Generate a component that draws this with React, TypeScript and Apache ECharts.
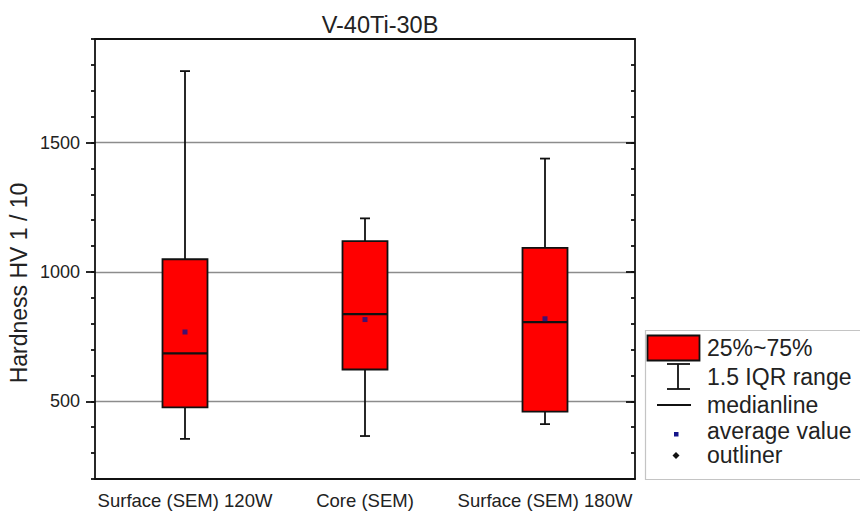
import React, { useEffect, useRef } from 'react';
import * as echarts from 'echarts';

const categories = ['Surface (SEM) 120W', 'Core (SEM)', 'Surface (SEM) 180W'];
const whiskerLow = [355, 366, 412];
const q1 = [477, 623, 460];
const median = [685, 837, 806];
const q3 = [1049, 1119, 1093];
const whiskerHigh = [1776, 1207, 1438];
const mean = [768, 816, 819];
const majorTicks = [500, 1000, 1500];
const legendLabels = ['25%~75%', '1.5 IQR range', 'medianline', 'average value', 'outliner'];
const titleText = 'V-40Ti-30B';
const yName = 'Hardness HV 1 / 10';

const FONT = 'Liberation Sans, Arial, sans-serif';
const AXIS = { color: '#111', width: 1.8 };

export default function App() {
  const ref = useRef<HTMLDivElement>(null);
  useEffect(() => {
    if (!ref.current) return;
    const chart = echarts.init(ref.current, undefined, { renderer: 'svg' });
    const boxData = categories.map((_, i) => [i, whiskerLow[i], q1[i], median[i], q3[i], whiskerHigh[i]]);
    const meanData = categories.map((_, i) => [i, mean[i]]);
    const yBase = { type: 'value', min: 200, max: 1900, splitLine: { show: false } };
    const legendX = 707;
    const legendY = [348, 377, 405, 431, 455];
    chart.setOption({
      animation: false,
      title: {
        text: titleText,
        left: 375,
        top: 8,
        textAlign: 'center',
        textStyle: { fontFamily: FONT, fontSize: 23.5, fontWeight: 'normal', color: '#222' },
      },
      grid: { left: 95, right: 225, top: 39, bottom: 33 },
      xAxis: [
        {
          type: 'category',
          data: categories,
          position: 'bottom',
          axisLine: { lineStyle: AXIS },
          axisTick: { alignWithLabel: true, length: 7, lineStyle: AXIS },
          axisLabel: { interval: 0, fontFamily: FONT, fontSize: 18.5, color: '#222', margin: 12 },
        },
        {
          type: 'category',
          data: categories,
          position: 'top',
          axisLine: { lineStyle: AXIS },
          axisTick: { alignWithLabel: true, inside: true, length: 7, lineStyle: AXIS },
          axisLabel: { show: false },
        },
      ],
      yAxis: [
        {
          ...yBase,
          position: 'left',
          interval: 100,
          axisLine: { show: true, lineStyle: AXIS },
          axisTick: { show: true, length: 4, lineStyle: AXIS },
          axisLabel: {
            formatter: (v: number) => (majorTicks.includes(v) ? String(v) : ''),
            fontFamily: FONT,
            fontSize: 18,
            color: '#222',
            margin: 15,
          },
        },
        {
          ...yBase,
          position: 'left',
          axisLine: { show: false },
          axisTick: { show: true, customValues: majorTicks, length: 9, lineStyle: AXIS },
          axisLabel: { show: false },
          splitLine: { show: true, lineStyle: { color: '#8c8c8c', width: 1.3 } },
        },
        {
          ...yBase,
          position: 'right',
          interval: 100,
          axisLine: { show: true, lineStyle: AXIS },
          axisTick: { show: true, inside: true, length: 4, lineStyle: AXIS },
          axisLabel: { show: false },
        },
        {
          ...yBase,
          position: 'right',
          axisLine: { show: false },
          axisTick: { show: true, inside: true, customValues: majorTicks, length: 9, lineStyle: AXIS },
          axisLabel: { show: false },
        },
      ],
      series: [
        {
          type: 'custom',
          xAxisIndex: 0,
          yAxisIndex: 0,
          z: 3,
          encode: { x: 0, y: [1, 2, 3, 4, 5] },
          data: boxData,
          renderItem: (params: any, api: any) => {
            const x = api.value(0);
            const pMin = api.coord([x, api.value(1)]);
            const pQ1 = api.coord([x, api.value(2)]);
            const pMed = api.coord([x, api.value(3)]);
            const pQ3 = api.coord([x, api.value(4)]);
            const pMax = api.coord([x, api.value(5)]);
            const bw = api.size([1, 0])[0] * 0.25;
            const cap = 5;
            const cx = pMed[0];
            const ls = { stroke: '#111', lineWidth: 1.8 };
            return {
              type: 'group',
              children: [
                { type: 'line', shape: { x1: cx, y1: pQ3[1], x2: cx, y2: pMax[1] }, style: ls },
                { type: 'line', shape: { x1: cx, y1: pQ1[1], x2: cx, y2: pMin[1] }, style: ls },
                { type: 'line', shape: { x1: cx - cap, y1: pMax[1], x2: cx + cap, y2: pMax[1] }, style: ls },
                { type: 'line', shape: { x1: cx - cap, y1: pMin[1], x2: cx + cap, y2: pMin[1] }, style: ls },
                {
                  type: 'rect',
                  shape: { x: cx - bw / 2, y: pQ3[1], width: bw, height: pQ1[1] - pQ3[1] },
                  style: { fill: '#ff0000', stroke: '#111', lineWidth: 1.8 },
                },
                { type: 'line', shape: { x1: cx - bw / 2, y1: pMed[1], x2: cx + bw / 2, y2: pMed[1] }, style: { stroke: '#111', lineWidth: 2.2 } },
              ],
            };
          },
        },
        {
          type: 'scatter',
          xAxisIndex: 0,
          yAxisIndex: 0,
          z: 5,
          symbol: 'rect',
          symbolSize: 5,
          itemStyle: { color: '#14148a' },
          data: meanData,
        },
      ],
      graphic: [
        {
          type: 'text',
          x: 19,
          y: 283,
          rotation: Math.PI / 2,
          style: { text: yName, fontFamily: FONT, fontSize: 23, fill: '#222', align: 'center', verticalAlign: 'middle' },
        },
        {
          type: 'rect',
          shape: { x: 645.5, y: 330.5, width: 230, height: 149 },
          style: { fill: '#fff', stroke: '#c4c4c4', lineWidth: 1.2 },
        },
        {
          type: 'rect',
          shape: { x: 647.5, y: 335.5, width: 52, height: 25 },
          style: { fill: '#ff0000', stroke: '#111', lineWidth: 1.8 },
        },
        { type: 'line', shape: { x1: 678, y1: 364, x2: 678, y2: 389 }, style: { stroke: '#111', lineWidth: 1.8 } },
        { type: 'line', shape: { x1: 667, y1: 364, x2: 690, y2: 364 }, style: { stroke: '#111', lineWidth: 1.8 } },
        { type: 'line', shape: { x1: 667, y1: 389, x2: 690, y2: 389 }, style: { stroke: '#111', lineWidth: 1.8 } },
        { type: 'line', shape: { x1: 657, y1: 405, x2: 691, y2: 405 }, style: { stroke: '#111', lineWidth: 1.8 } },
        { type: 'rect', shape: { x: 674, y: 432, width: 4.5, height: 4.5 }, style: { fill: '#14148a' } },
        { type: 'polygon', shape: { points: [[676, 452], [679.5, 455.5], [676, 459], [672.5, 455.5]] }, style: { fill: '#111' } },
        ...legendLabels.map((t, i) => ({
          type: 'text',
          x: legendX,
          y: legendY[i],
          style: { text: t, fontFamily: FONT, fontSize: 23, fill: '#222', align: 'left', verticalAlign: 'middle' },
        })),
      ],
    });
    return () => chart.dispose();
  }, []);
  return <div ref={ref} style={{ position: 'absolute', left: 0, top: 0, width: 860, height: 512, background: '#fff' }} />;
}
